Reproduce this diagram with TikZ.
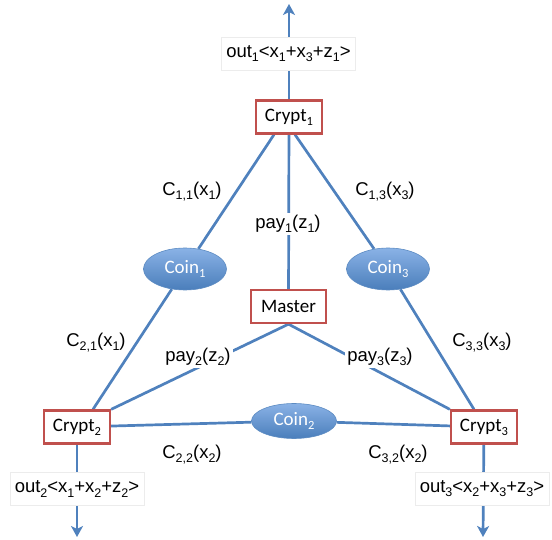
\documentclass[tikz,border=0pt]{standalone}
\usepackage{fontspec}
\setmainfont{Liberation Sans}
\newfontfamily\calfont{Carlito}
\usetikzlibrary{arrows.meta,shapes.geometric,backgrounds}
\definecolor{lineblue}{HTML}{4F81BD}
\definecolor{boxred}{HTML}{C0504D}
\definecolor{coinlight}{HTML}{8AB2E6}
\definecolor{coindark}{HTML}{4A7EBB}
\newcommand{\sbs}[1]{\raisebox{-0.22em}{\fontsize{12.5}{13}\selectfont#1}}
\begin{document}
\begin{tikzpicture}[x=1pt,y=-1pt,
 conn/.style={draw=lineblue,line width=2.7pt},
 arr/.style={conn,-{Stealth[length=11pt,width=12pt,inset=3pt]}},
 cryptbox/.style={draw=boxred,line width=2.3pt,fill=white,minimum height=33pt,inner xsep=9pt,font=\calfont\fontsize{19}{21}\selectfont},
 coin/.style={ellipse,draw=coindark!90,line width=0.6pt,top color=coinlight,bottom color=coindark,text=white,font=\calfont\fontsize{19}{21}\selectfont,inner sep=0pt},
 outbox/.style={draw=gray!15,fill=white,minimum width=134pt,minimum height=33pt,inner sep=0pt,font=\fontsize{18.5}{20}\selectfont},
 lab/.style={font=\fontsize{18.5}{20}\selectfont,inner sep=1pt},
 paylab/.style={lab,fill=white,inner sep=2pt}]
\useasboundingbox (0,0) rectangle (552,540);
% boxes
\node[cryptbox] (c1) at (289,117) {Crypt\sbs{1}};
\node[cryptbox] (c2) at (77,427) {Crypt\sbs{2}};
\node[cryptbox] (c3) at (484,427) {Crypt\sbs{3}};
\node[cryptbox,inner xsep=10pt] (m) at (288.5,306.5) {Master};
% coins
\node[coin,minimum width=83pt,minimum height=42pt] (k1) at (185,269) {Coin\sbs{1}};
\node[coin,minimum width=83pt,minimum height=42pt] (k3) at (388,269) {Coin\sbs{3}};
\node[coin,minimum width=85pt,minimum height=35pt] (k2) at (294,421) {Coin\sbs{2}};
% output boxes
\node[outbox] (o1) at (288.5,53.5) {out\sbs{1}<x\sbs{1}+x\sbs{3}+z\sbs{1}>};
\node[outbox] (o2) at (77,489) {out\sbs{2}<x\sbs{1}+x\sbs{2}+z\sbs{2}>};
\node[outbox] (o3) at (482,489) {out\sbs{3}<x\sbs{2}+x\sbs{3}+z\sbs{3}>};
\coordinate (t1) at (289,4);
\coordinate (t2) at (77,537);
\coordinate (t3) at (483,537);
% labels
\node[lab] (l11) at (192,192) {C\sbs{1,1}(x\sbs{1})};
\node[lab] (l13) at (385,192) {C\sbs{1,3}(x\sbs{3})};
\node[paylab] (p1) at (288,224) {pay\sbs{1}(z\sbs{1})};
\node[lab] (l21) at (96,343) {C\sbs{2,1}(x\sbs{1})};
\node[lab] (l33) at (482,343) {C\sbs{3,3}(x\sbs{3})};
\node[paylab] (p2) at (198,357) {pay\sbs{2}(z\sbs{2})};
\node[paylab] (p3) at (380,357) {pay\sbs{3}(z\sbs{3})};
\node[lab] (l22) at (192,455) {C\sbs{2,2}(x\sbs{2})};
\node[lab] (l32) at (398,455) {C\sbs{3,2}(x\sbs{2})};
% connectors
\begin{pgfonlayer}{background}
\draw[conn] ([xshift=-15pt]c1.south) -- (k1) -- ([xshift=16pt]c2.north);
\draw[conn] ([xshift=6pt]c1.south) -- (k3) -- ([xshift=-10pt]c3.north);
\draw[conn] (c1) -- (m);
\draw[conn] (m.south) -- (c2.north east);
\draw[conn] (m.south) -- (c3.north west);
\draw[conn] (c2) -- (k2) -- (c3);
\draw[arr] (c1) -- (t1);
\draw[arr] (c2) -- (t2);
\draw[arr] (c3) -- (t3);
\end{pgfonlayer}
\end{tikzpicture}
\end{document}
